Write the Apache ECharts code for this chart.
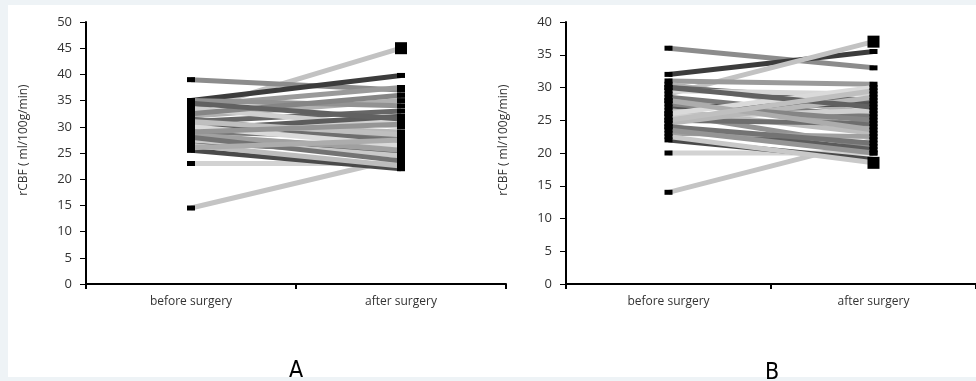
<!DOCTYPE html>
<html>
<head>
<meta charset="utf-8">
<script src="https://cdn.jsdelivr.net/npm/echarts@6/dist/echarts.min.js"></script>
<style>
  html, body { margin: 0; padding: 0; background: #eef3f6; }
  #chart { width: 976px; height: 381px; }
</style>
</head>
<body>
<div id="chart"></div>
<script>
// categories + y ticks
const categories = ['before surgery', 'after surgery']
const yMaxA = 50
const yMaxB = 40
const yStep = 5

// panel A: one line per patient, rCBF before -> after
const beforeA = [33, 39, 35, 14.5, 23, 25.5, 34, 32, 31, 30, 29, 28, 27, 26.5, 35, 33.5, 31.5, 30.5, 29.5, 28.5, 27.5, 32.5, 30, 28, 26, 34.5, 31, 29]
const afterA = [45, 37, 39.8, 24, 23, 22, 37.5, 35, 33, 31, 28, 26, 25, 22.5, 34, 30, 27, 29, 32, 25.5, 24.5, 36, 26.5, 23.5, 27.5, 31.5, 28.5, 30.5]

// panel B
const beforeB = [36, 32, 29, 14, 20, 22, 31, 30.5, 30, 29.5, 28.5, 28, 27, 26.5, 26, 25.5, 25, 24.5, 24, 23, 22.5, 27.5, 26, 24, 28, 30, 25, 23.5]
const afterB = [33, 35.5, 37, 22, 20, 19, 30.5, 26, 28, 29, 25.5, 24, 27.5, 23, 21, 26.5, 24.5, 28.5, 20.5, 22.5, 18.5, 25, 30, 21.5, 23.5, 27, 29.5, 20]

// line greys (style only)
const greysA = ['#c2c2c2', '#8c8c8c', '#3c3c3c', '#c4c4c4', '#d2d2d2', '#4a4a4a',
  '#9a9a9a', '#b0b0b0', '#666666', '#d6d6d6', '#7a7a7a', '#a6a6a6', '#555555', '#bdbdbd',
  '#929292', '#cfcfcf', '#6e6e6e', '#b8b8b8', '#5c5c5c', '#a0a0a0', '#c9c9c9', '#858585',
  '#dadada', '#737373', '#acacac', '#616161', '#bfbfbf', '#959595']
const greysB = ['#8c8c8c', '#3c3c3c', '#c2c2c2', '#c4c4c4', '#d2d2d2', '#4a4a4a',
  '#9a9a9a', '#b0b0b0', '#666666', '#d6d6d6', '#7a7a7a', '#a6a6a6', '#555555', '#bdbdbd',
  '#929292', '#cfcfcf', '#6e6e6e', '#b8b8b8', '#5c5c5c', '#a0a0a0', '#c9c9c9', '#858585',
  '#dadada', '#737373', '#acacac', '#616161', '#bfbfbf', '#959595']

const chart = echarts.init(document.getElementById('chart'))

function makeSeries(before, after, idx, greys, bigAfter) {
  return before.map((b, i) => {
    const a = bigAfter.includes(i) ? { value: after[i], symbolSize: 12 } : after[i]
    return {
      type: 'line',
      xAxisIndex: idx,
      yAxisIndex: idx,
      data: [b, a],
      symbol: 'rect',
      symbolSize: [8, 5],
      showSymbol: true,
      lineStyle: { color: greys[i % greys.length], width: 5 },
      itemStyle: { color: '#000', borderWidth: 0 },
      emphasis: { disabled: true },
      z: 2
    }
  })
}

function yAxis(idx, max) {
  return {
    type: 'value',
    gridIndex: idx,
    min: 0,
    max: max,
    interval: yStep,
    name: 'rCBF ( ml/100g/min)',
    nameLocation: 'middle',
    nameGap: 56,
    nameTextStyle: { fontSize: 12, color: '#333', fontFamily: 'Open Sans', padding: [0, 0, 0, 26] },
    axisLine: { show: true, lineStyle: { color: '#000', width: 2 } },
    axisTick: { show: true, length: 6, lineStyle: { color: '#000', width: 1 } },
    axisLabel: { fontSize: 13, color: '#333', margin: 14, fontFamily: 'Open Sans' },
    splitLine: { show: false }
  }
}

function xAxis(idx) {
  return {
    type: 'category',
    gridIndex: idx,
    data: categories,
    boundaryGap: true,
    axisLine: { lineStyle: { color: '#000', width: 2 } },
    axisTick: { show: true, length: 5, lineStyle: { color: '#000', width: 2 } },
    axisLabel: { fontSize: 12, color: '#333', margin: 12, fontFamily: 'Open Sans' }
  }
}

const titleStyle = { fontSize: 23, fontWeight: 'normal', color: '#000', fontFamily: 'DejaVu Sans Condensed, Liberation Sans' }

chart.setOption({
  animation: false,
  backgroundColor: '#eef3f6',
  graphic: [{
    type: 'rect',
    shape: { x: 8, y: 5, width: 968, height: 372 },
    style: { fill: '#fff' },
    silent: true,
    z: -10
  }],
  title: [
    { text: 'A', left: 284, top: 355, textStyle: titleStyle },
    { text: 'B', left: 760, top: 357, textStyle: titleStyle }
  ],
  grid: [
    { left: 86, top: 22, width: 420, height: 262 },
    { left: 566, top: 22, width: 416, height: 262 }
  ],
  xAxis: [xAxis(0), xAxis(1)],
  yAxis: [yAxis(0, yMaxA), yAxis(1, yMaxB)],
  series: [
    ...makeSeries(beforeA, afterA, 0, greysA, [0]),
    ...makeSeries(beforeB, afterB, 1, greysB, [2, 20])
  ]
})
</script>
</body>
</html>
